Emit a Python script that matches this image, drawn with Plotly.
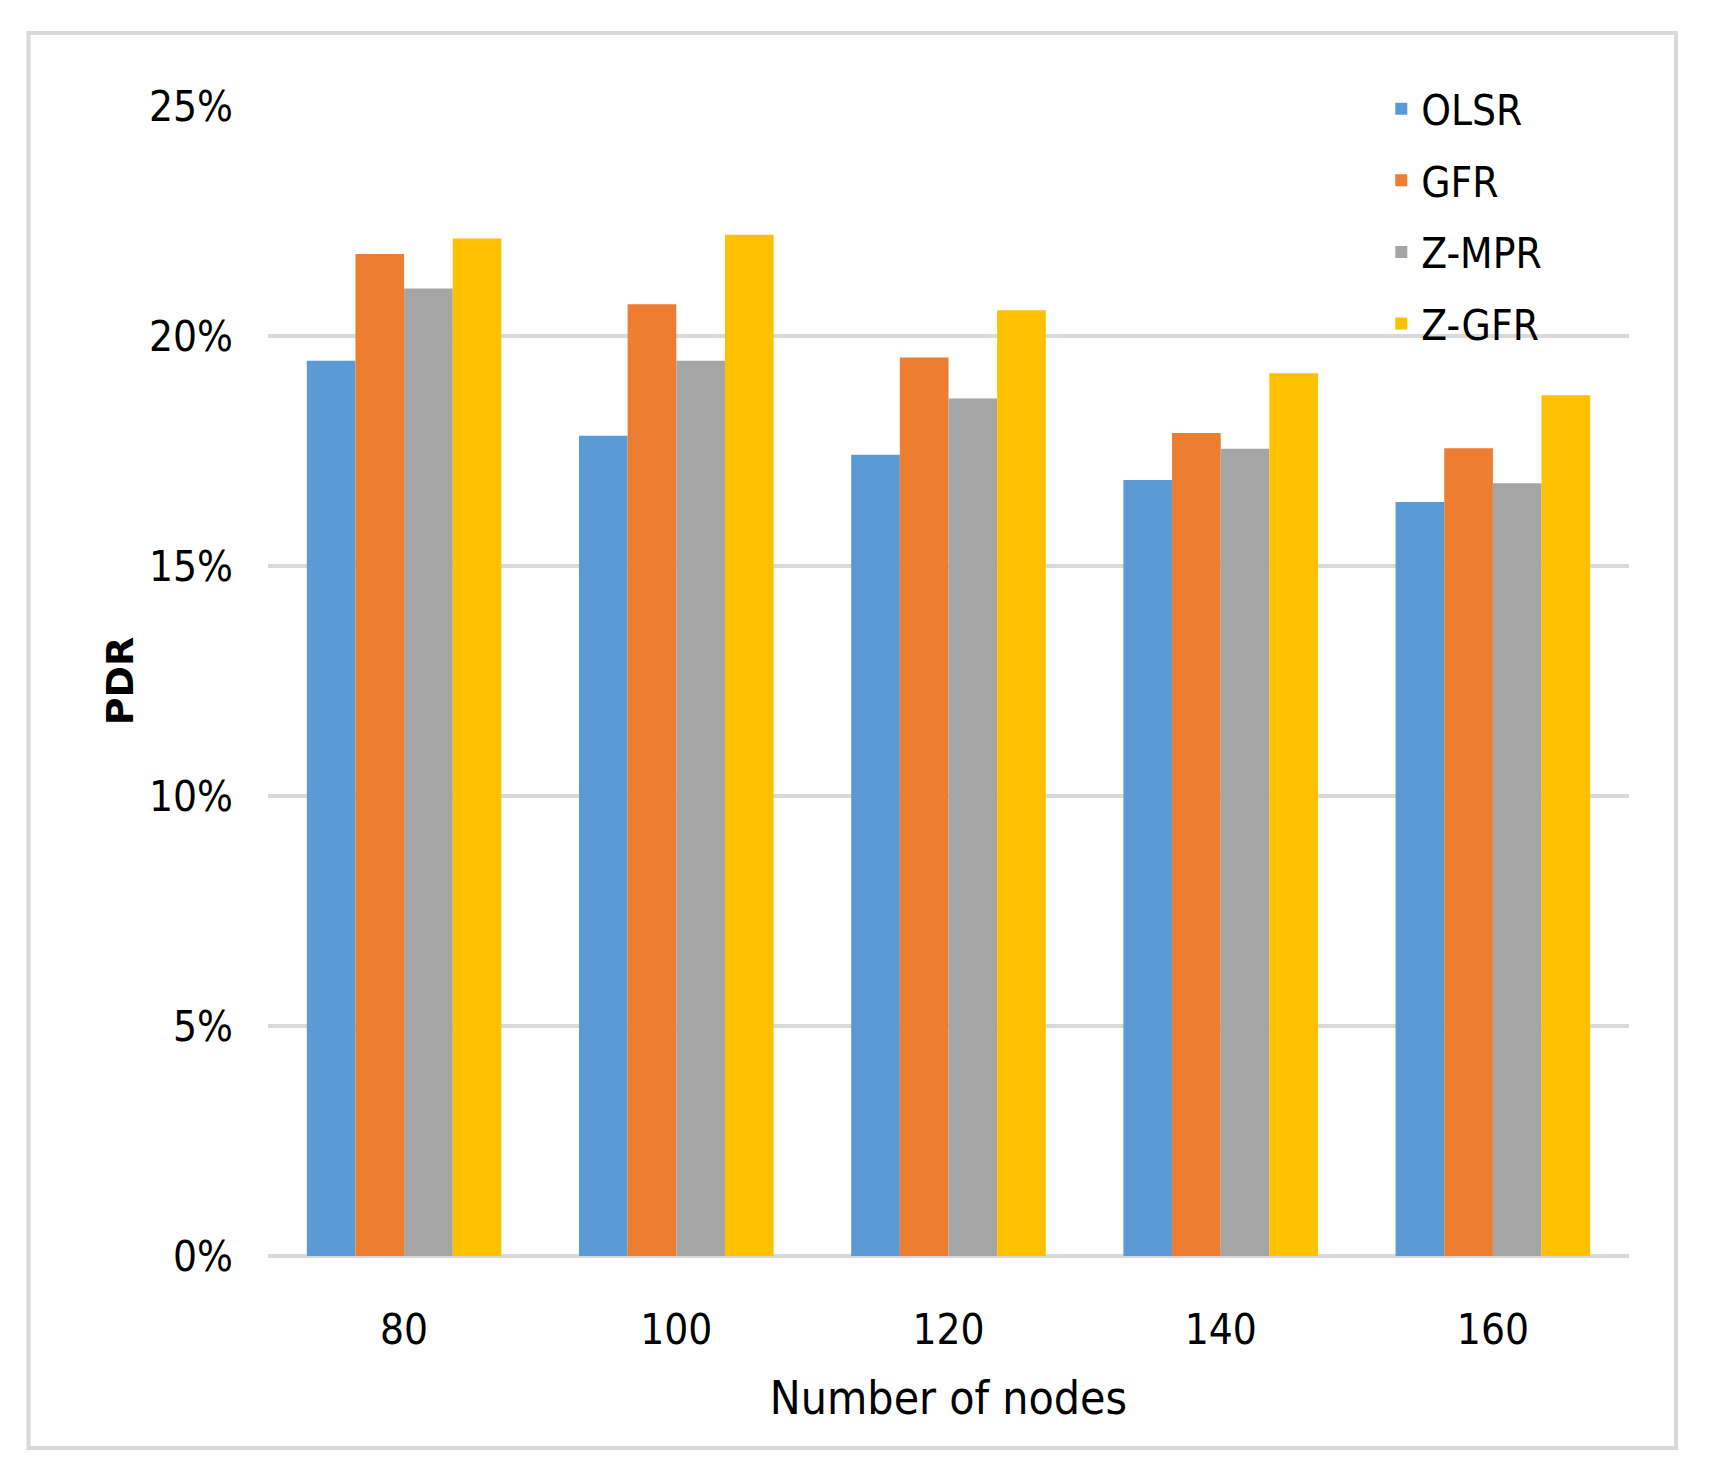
import plotly.graph_objects as go

# PDR vs number of nodes
nodes = ["80", "100", "120", "140", "160"]
olsr = [0.1946, 0.1783, 0.1742, 0.1687, 0.1639]
gfr = [0.2178, 0.2069, 0.1953, 0.1789, 0.1756]
z_mpr = [0.2103, 0.1946, 0.1864, 0.1755, 0.1680]
z_gfr = [0.2212, 0.2220, 0.2056, 0.1919, 0.1871]

series = [
    ("OLSR", olsr, "#5B9BD5"),
    ("GFR", gfr, "#ED7D31"),
    ("Z-MPR", z_mpr, "#A5A5A5"),
    ("Z-GFR", z_gfr, "#FFC000"),
]

narrow = "Liberation Sans Narrow, DejaVu Sans Condensed, Roboto, sans-serif"

fig = go.Figure()
for name, vals, color in series:
    fig.add_trace(go.Bar(x=nodes, y=vals, name=name, legendgroup=name,
                         marker=dict(color=color, line=dict(width=0))))

fig.update_layout(
    width=1709, height=1476,
    paper_bgcolor="white", plot_bgcolor="white",
    barmode="group", bargap=0.285, bargroupgap=0,
    margin=dict(l=260, r=88, t=98, b=228),
    font=dict(family=narrow, size=42, color="black"),
    legend=dict(x=0.818, y=1.027, xanchor="left", yanchor="top",
                font=dict(family=narrow, size=42), tracegroupgap=14,
                bgcolor="rgba(0,0,0,0)"),
    showlegend=True,
)

fig.update_yaxes(
    range=[0, 0.25], dtick=0.05, tickformat=".0%",
    showgrid=True, gridcolor="#D9D9D9", gridwidth=4,
    zeroline=True, zerolinecolor="#D9D9D9", zerolinewidth=4,
    showline=False, ticks="", ticklabelstandoff=34,
    title=dict(text="PDR", standoff=3,
               font=dict(family="DejaVu Sans", size=38, weight="bold")),
)
fig.update_xaxes(
    showgrid=False, showline=False, ticks="", ticklabelstandoff=45,
    title=dict(text="Number of nodes", standoff=28,
               font=dict(family=narrow, size=46)),
)

# light dotted frame around the whole chart
fig.add_shape(type="rect", xref="paper", yref="paper",
              x0=-0.1760, x1=1.0345, y0=-0.167, y1=1.0635,
              line=dict(color="#D9D9D9", width=4), layer="below")

fig.write_html("out.html")
